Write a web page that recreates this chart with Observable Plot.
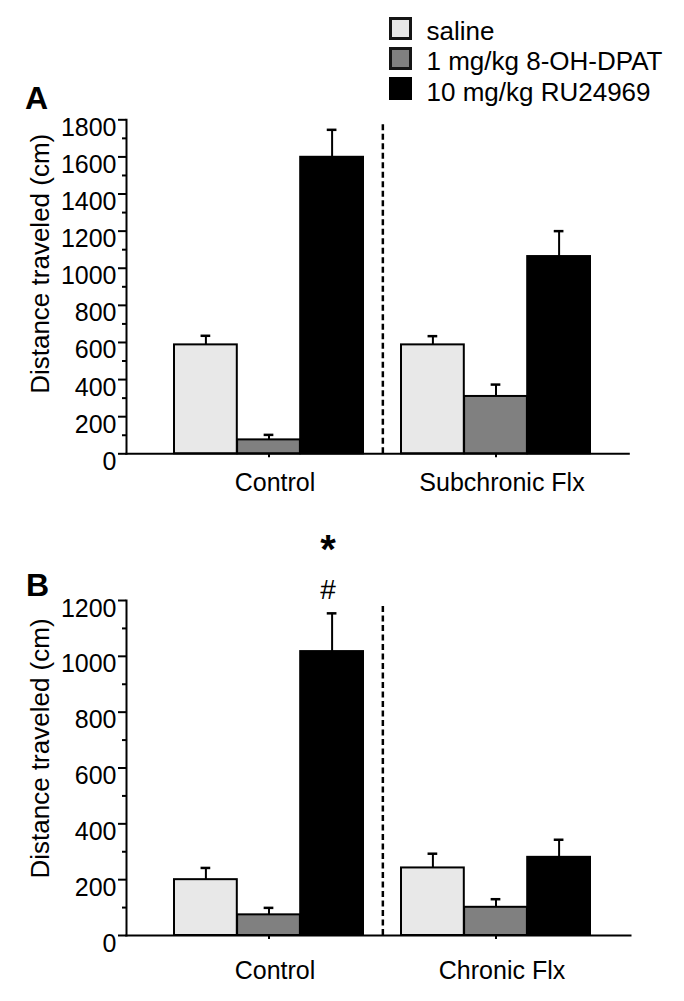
<!DOCTYPE html>
<html><head><meta charset="utf-8">
<script src="https://cdn.jsdelivr.net/npm/d3@7"></script>
<script src="https://cdn.jsdelivr.net/npm/@observablehq/plot@0.6"></script>
<style>
body{margin:0;background:#fff;font-family:"Liberation Sans",Arial,Helvetica,sans-serif;color:#000;}
#root{position:relative;width:684px;height:1001px;overflow:hidden;background:#fff;}
.abs{position:absolute;}
.sw{position:absolute;width:23px;height:23px;box-sizing:border-box;border:3px solid #151515;}
.lt{position:absolute;font-size:26px;line-height:26px;white-space:nowrap;}
.pl{position:absolute;font-size:32px;line-height:32px;font-weight:bold;}
</style></head>
<body><div id="root"></div>
<script>
// ---- data ----
const treatments = ["saline", "1 mg/kg 8-OH-DPAT", "10 mg/kg RU24969"];
const treatmentFills = ["#e8e8e8", "#808080", "#000000"];

const groupsA = ["Control", "Subchronic Flx"];
const meanA_control = [587, 75, 1598];
const semA_control  = [49, 27, 148];
const meanA_flx     = [587, 309, 1063];
const semA_flx      = [47, 64, 137];
const yTicksA = [0, 200, 400, 600, 800, 1000, 1200, 1400, 1600, 1800];
const yMinorA = [100, 300, 500, 700, 900, 1100, 1300, 1500, 1700];

const groupsB = ["Control", "Chronic Flx"];
const meanB_control = [200, 74, 1017];
const semB_control  = [42, 25, 137];
const meanB_flx     = [242, 101, 280];
const semB_flx      = [51, 29, 63];
const yTicksB = [0, 200, 400, 600, 800, 1000, 1200];
const yMinorB = [100, 300, 500, 700, 900, 1100];

const yLabel = "Distance traveled (cm)";
const annotationsB = [{group: "Control", treatment: "10 mg/kg RU24969", text: "*"},
                      {group: "Control", treatment: "10 mg/kg RU24969", text: "#"}];

// ---- layout ----
const FONT = "Liberation Sans, Arial, Helvetica, sans-serif";
const BW = 189.3;          // width of a group of three bars
const SUB = BW / 3;        // width of one bar
const STEP = 227.7;        // distance between groups
const LEFT_GAP = 47.3;     // from y axis to first bar

function bandOpts(width, mL, mR) {
  const W = width - mL - mR;
  const pi = (STEP - BW) / STEP;
  const extra = W - STEP * (2 - pi);
  return {paddingInner: pi, paddingOuter: extra / (2 * STEP), align: LEFT_GAP / extra};
}

function panel(o) {
  const rows = [];
  o.groups.forEach((g, gi) => treatments.forEach((t, ti) =>
    rows.push({group: g, treatment: t, ti, mean: o.means[gi][ti], sem: o.sems[gi][ti]})));
  const mL = 126, mR = o.mR;
  const marks = [];
  // dashed divider between groups
  marks.push(Plot.ruleX([o.groups[0]], {x: d => d, dx: BW / 2 + (STEP - BW) / 2, insetTop: o.dashInset,
    stroke: "#000", strokeWidth: 2.5, strokeDasharray: "6,3.5"}));
  treatments.forEach((t, ti) => {
    const sub = rows.filter(r => r.ti === ti);
    marks.push(Plot.barY(sub, {x: "group", y: "mean", fill: "treatment", stroke: "#000", strokeWidth: 2,
      insetLeft: ti * SUB, insetRight: (2 - ti) * SUB}));
    marks.push(Plot.ruleX(sub, {x: "group", y1: "mean", y2: d => d.mean + d.sem, dx: (ti - 1) * SUB,
      stroke: "#000", strokeWidth: 2}));
    marks.push(Plot.tickY(sub, {x: "group", y: d => d.mean + d.sem, dx: (ti - 1) * SUB,
      insetLeft: BW / 2 - 5, insetRight: BW / 2 - 5, stroke: "#000", strokeWidth: 2.5}));
  });
  // axes
  marks.push(Plot.frame({anchor: "left", stroke: "#000", strokeWidth: 2}));
  marks.push(Plot.frame({anchor: "bottom", stroke: "#000", strokeWidth: 2}));
  marks.push(Plot.axisY({ticks: o.yTicks, tickSize: 8, fill: "none", stroke: "#000", strokeWidth: 2, label: null}));
  marks.push(Plot.axisY({ticks: o.yMinor, tickSize: 4, fill: "none", stroke: "#000", strokeWidth: 2, label: null}));
  marks.push(Plot.axisY({ticks: o.yTicks, tickSize: 0, tickPadding: 10, dy: 8, fill: "#000", fontSize: 25,
    tickFormat: d => String(d), label: null}));
  marks.push(Plot.axisX({tickSize: 4, fill: "none", stroke: "#000", strokeWidth: 2, label: null}));
  marks.push(Plot.axisX({tickSize: 0, tickPadding: o.xPad, dx: 6, fill: "#000", fontSize: 25, label: null}));
  // y label
  marks.push(Plot.text([yLabel], {text: d => d, frameAnchor: "left", rotate: -90, dx: -86, dy: o.labelDy,
    fontSize: 26, fill: "#000", textAnchor: "middle"}));
  if (o.annotations) {
    const a = o.annotations.map((d, i) => {
      const r = rows.find(r => r.group === d.group && r.treatment === d.treatment);
      return {...d, y: r.mean + r.sem, i, ti: r.ti};
    });
    marks.push(Plot.text(a.filter(d => d.text === "*"), {x: "group", y: "y", text: "text", dx: SUB - 4, dy: -63,
      fontSize: 40, fontWeight: "bold", fill: "#000"}));
    marks.push(Plot.text(a.filter(d => d.text === "#"), {x: "group", y: "y", text: "text", dx: SUB - 4, dy: -23.5,
      fontSize: 28, fill: "#000"}));
  }
  return Plot.plot({
    width: 684, height: o.height,
    marginLeft: mL, marginRight: mR, marginTop: o.mT, marginBottom: o.mB,
    style: {fontFamily: FONT, fontSize: "25px", background: "transparent", overflow: "visible"},
    x: {type: "band", domain: o.groups, ...bandOpts(684, mL, mR), axis: null},
    y: {domain: [0, o.yTicks[o.yTicks.length - 1]], axis: null},
    color: {domain: treatments, range: treatmentFills},
    marks
  });
}

const root = document.getElementById("root");

const svgA = panel({groups: groupsA, means: [meanA_control, meanA_flx], sems: [semA_control, semA_flx],
  yTicks: yTicksA, yMinor: yMinorA, height: 500, mT: 119.3, mB: 46.7, mR: 55.7, xPad: 19, labelDy: -23, dashInset: 5});
svgA.classList.add("abs"); svgA.style.left = "0px"; svgA.style.top = "0px";
root.appendChild(svgA);

const svgB = panel({groups: groupsB, means: [meanB_control, meanB_flx], sems: [semB_control, semB_flx],
  yTicks: yTicksB, yMinor: yMinorB, height: 501, mT: 100, mB: 66, mR: 54, xPad: 26, labelDy: -19.5, dashInset: 6,
  annotations: annotationsB});
svgB.classList.add("abs"); svgB.style.left = "0px"; svgB.style.top = "500px";
root.appendChild(svgB);

// legend
treatments.forEach((t, i) => {
  const sq = document.createElement("div");
  sq.className = "sw";
  sq.style.left = "388.5px";
  sq.style.top = (16.7 + i * 30.3) + "px";
  sq.style.background = treatmentFills[i];
  if (i === 2) sq.style.borderColor = "#000";
  root.appendChild(sq);
  const tx = document.createElement("div");
  tx.className = "lt";
  tx.style.left = "426.5px";
  tx.style.top = (18 + i * 30.3) + "px";
  tx.textContent = t;
  root.appendChild(tx);
});

// panel letters
[["A", 25, 82], ["B", 26, 569]].forEach(([s, x, y]) => {
  const d = document.createElement("div");
  d.className = "pl"; d.style.left = x + "px"; d.style.top = y + "px"; d.textContent = s;
  root.appendChild(d);
});
</script>
</body></html>
